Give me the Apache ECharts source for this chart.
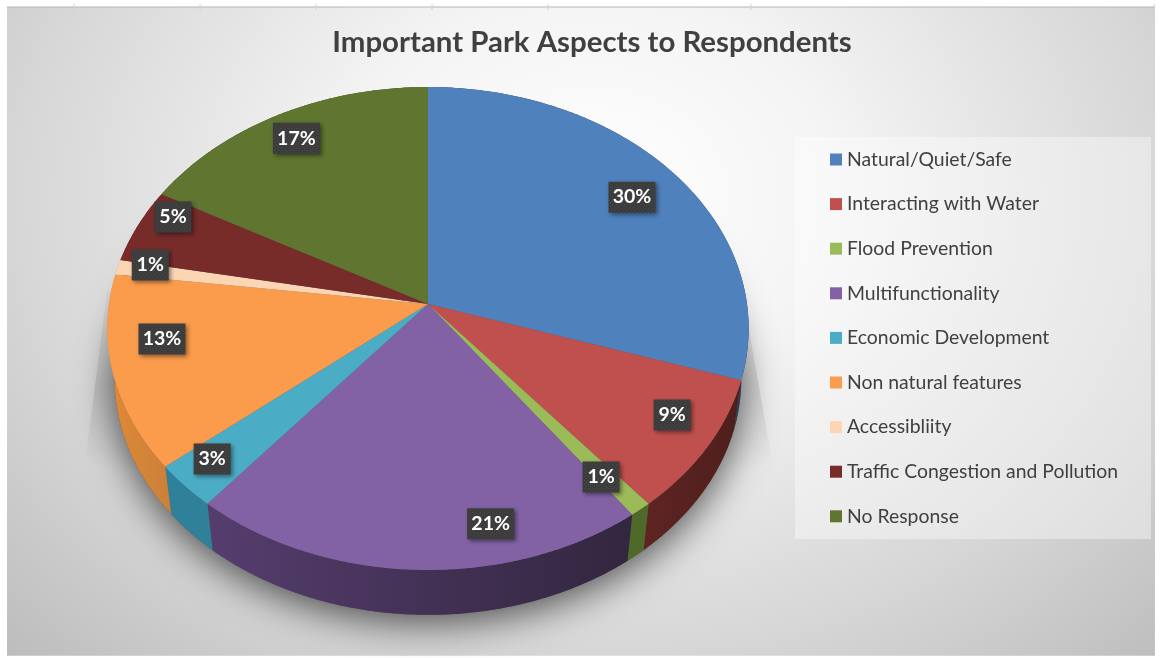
<!DOCTYPE html>
<html>
<head>
<meta charset="utf-8">
<style>html,body{margin:0;padding:0;background:#fff}#chart{width:1161px;height:658px}</style>
<script src="https://cdn.jsdelivr.net/npm/echarts@6/dist/echarts.min.js"></script>
</head>
<body>
<div id="chart"></div>
<script>
// Survey responses, in percent
const categories = ['Natural/Quiet/Safe', 'Interacting with Water', 'Flood Prevention', 'Multifunctionality',
  'Economic Development', 'Non natural features', 'Accessibliity', 'Traffic Congestion and Pollution', 'No Response'];
const shares = [30, 9, 1, 21, 3, 13, 1, 5, 17];
const topColors = ['#4f81bd', '#c0504d', '#9bbb59', '#8262a5', '#4bacc6', '#fb9b4c', '#fcd5b5', '#772c2a', '#5f7530'];
const wallColors = [['#24405f', '#24405f'], ['#5e2422', '#4e1f1d'], ['#4f6a28', '#4f6a28'], ['#553d6e', '#33263f'],
  ['#2f8199', '#2f8199'], ['#e08a35', '#c9803a'], ['#d8a070', '#d8a070'], ['#4a1a18', '#4a1a18'], ['#3d4c1e', '#3d4c1e']];
// Where each value label sits on the disc: radius fraction, and degrees away from the slice's middle
const labelPlacement = [[.82, .8], [.853, -3.2], [.84, .8], [.857, -13.9], [.877, 1.4], [.834, 6.5], [.902, 1.9], [.914, 4.9], [.872, 0]];
// Small sheet-grid ticks along the top edge of the frame
const frameTicks = [74, 200, 316, 432, 548, 751, 1154];

// Tilted-disc projection: unit circle to screen, nearer edge drawn larger
const cx = 428, cy = 304, scaleX = 319, scaleY = 239, tilt = 0.1014;
const depthY = 51, depthScale = 0.977;
function project(deg, r, lower) {
  const t = deg * Math.PI / 180, ux = r * Math.sin(t), uy = r * Math.cos(t);
  const d = 1 + tilt * uy, s = lower ? depthScale : 1;
  return [cx + s * scaleX * ux / d, cy + (lower ? depthY : 0) - s * scaleY * uy / d];
}
function arc(from, to, lower) {
  const pts = [], n = Math.max(2, Math.ceil(Math.abs(to - from) * 2));
  for (let i = 0; i <= n; i++) pts.push(project(from + (to - from) * i / n, 1, lower));
  return pts;
}

const starts = [];
shares.reduce((sum, v, i) => { starts[i] = sum; return sum + v; }, 0);
const total = shares.reduce((a, b) => a + b, 0);

// Dotted dark tile behind the value labels
const tile = document.createElement('canvas');
tile.width = tile.height = 4;
const tc = tile.getContext('2d');
tc.fillStyle = '#3c3c3c'; tc.fillRect(0, 0, 4, 4);
tc.fillStyle = '#4a4a4a'; tc.fillRect(0, 0, 1, 1); tc.fillRect(2, 2, 1, 1);

function renderSlice(params, api) {
  const i = params.seriesIndex, value = api.value(0);
  const a0 = starts[i] / total * 360, a1 = a0 + value / total * 360;
  const rim = arc(a0, a1, false), under = arc(a0, a1, true).reverse();
  const [lr, nudge] = labelPlacement[i];
  const [lx, labelY] = project((a0 + a1) / 2 + nudge, lr, false);
  const ly = labelY + 1;
  const text = value + '%', w = text.length > 2 ? 47 : 37, h = 31;
  return {
    type: 'group',
    children: [
      { type: 'polygon', z2: 1, shape: { points: rim.concat(under) },
        style: { fill: { type: 'linear', x: 0, y: 0, x2: 1, y2: 0,
          colorStops: [{ offset: 0, color: wallColors[i][0] }, { offset: 1, color: wallColors[i][1] }] } } },
      { type: 'polygon', z2: 2, shape: { points: [[cx, cy]].concat(rim) }, style: { fill: topColors[i] } },
      { type: 'rect', z2: 3, shape: { x: lx - w / 2, y: ly - h / 2, width: w, height: h },
        style: { fill: { image: tile, repeat: 'repeat' }, shadowBlur: 4, shadowOffsetX: 2, shadowOffsetY: 2, shadowColor: 'rgba(0,0,0,.45)' } },
      { type: 'text', z2: 4, x: lx, y: ly,
        style: { text, fill: '#fff', font: 'bold 19.5px Lato', align: 'center', verticalAlign: 'middle' } }
    ]
  };
}

const lowerRing = arc(0, 360, true);
const option = {
  animation: false,
  title: { text: 'Important Park Aspects to Respondents', left: 587, top: 23, textAlign: 'center',
    textStyle: { fontFamily: 'Lato', fontWeight: 'bold', fontSize: 29.4, color: '#404040' } },
  legend: {
    orient: 'vertical', left: 830, top: 149, padding: 0, itemWidth: 12, itemHeight: 12, itemGap: 23.6,
    icon: 'rect', data: categories, selectedMode: false,
    textStyle: { fontFamily: 'Lato', fontSize: 19.4, color: '#404040', lineHeight: 21 }
  },
  graphic: [
    // Panel fill: rect is stretched in y before scaling so that the radial fade comes out elliptical
    { type: 'rect', z: -10, x: 7, y: 7, scaleY: .8, shape: { x: 0, y: 0, width: 1148, height: 811 },
      style: { fill: { type: 'radial', x: .51, y: .29, r: 1.02, colorStops: [
        { offset: 0, color: '#ffffff' }, { offset: .3, color: '#f4f4f4' }, { offset: .7, color: '#d6d6d6' }, { offset: 1, color: '#bcbcbc' }] } } },
    { type: 'line', z: -9, shape: { x1: 7, y1: 7, x2: 1155, y2: 7 }, style: { stroke: '#b5b5b5', lineWidth: 1 } },
    ...frameTicks.map(x => ({ type: 'line', z: -9, shape: { x1: x, y1: 4, x2: x, y2: 10 }, style: { stroke: '#d0d0d0', lineWidth: 1 } })),
    // Faint cast shadow flaring out on both sides of the disc
    { type: 'polygon', z: -8, shape: { points: [[cx - scaleX - 2, 292], [86, 455], [190, 600], [660, 600], [771, 455], [cx + scaleX + 2, 330]] },
      style: { fill: { type: 'linear', x: 0, y: 0, x2: 0, y2: 1, colorStops: [
        { offset: 0, color: 'rgba(0,0,0,.03)' }, { offset: .3, color: 'rgba(0,0,0,.1)' }, { offset: .48, color: 'rgba(0,0,0,.04)' }, { offset: .58, color: 'rgba(0,0,0,0)' }] } } },
    { type: 'polygon', z: -7, shape: { points: lowerRing },
      style: { fill: 'rgba(90,90,90,1)', shadowBlur: 38, shadowOffsetY: 8, shadowColor: 'rgba(0,0,0,.65)' } },
    { type: 'rect', z: -6, shape: { x: 795, y: 137, width: 356, height: 402 }, style: { fill: 'rgba(255,255,255,.38)' } }
  ],
  series: categories.map((name, i) => ({
    type: 'custom', name, coordinateSystem: 'none', z: 2,
    itemStyle: { color: topColors[i] },
    data: [[shares[i]]],
    renderItem: renderSlice
  }))
};
echarts.init(document.getElementById('chart'), null, { renderer: 'canvas' }).setOption(option);
</script>
</body>
</html>
